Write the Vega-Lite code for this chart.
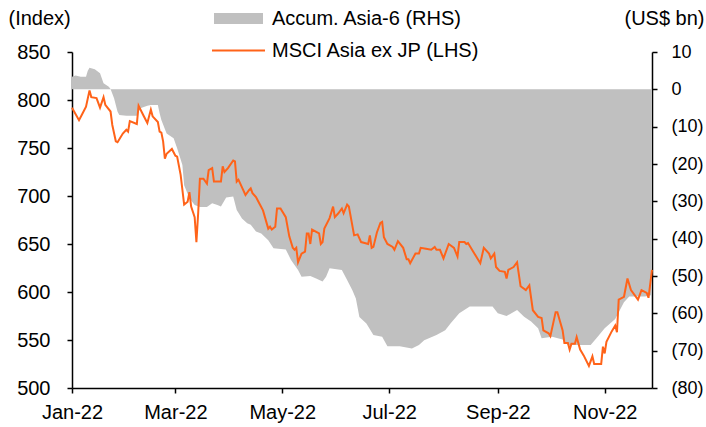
{
  "$schema": "https://vega.github.io/schema/vega-lite/v6.json",
  "autosize": "none",
  "width": 580,
  "height": 336,
  "padding": {"left": 72, "top": 52, "right": 54, "bottom": 39},
  "config": {
    "view": {"stroke": null},
    "font": "Liberation Sans",
    "axis": {"labelFont": "Liberation Sans", "titleFont": "Liberation Sans", "labelColor": "#000", "titleColor": "#000", "domainColor": "#000", "tickColor": "#000", "grid": false, "labelFontSize": 20, "titleFontSize": 20, "titleFontWeight": "normal", "domainWidth": 1.5, "tickWidth": 1.5, "tickSize": 5},
    "legend": {"labelFont": "Liberation Sans", "labelFontSize": 20, "labelColor": "#000", "labelLimit": 0}
  },
  "datasets": {
    "msci": [
      {"date": "2022-01-01", "value": 792}, {"date": "2022-01-05", "value": 779}, {"date": "2022-01-07", "value": 786}, {"date": "2022-01-09", "value": 793}, {"date": "2022-01-11", "value": 810}, {"date": "2022-01-12", "value": 803}, {"date": "2022-01-15", "value": 802}, {"date": "2022-01-17", "value": 792}, {"date": "2022-01-19", "value": 803}, {"date": "2022-01-20", "value": 795}, {"date": "2022-01-23", "value": 788}, {"date": "2022-01-24", "value": 774}, {"date": "2022-01-26", "value": 757}, {"date": "2022-01-27", "value": 756}, {"date": "2022-01-30", "value": 765},
      {"date": "2022-02-01", "value": 769}, {"date": "2022-02-02", "value": 767}, {"date": "2022-02-03", "value": 778}, {"date": "2022-02-07", "value": 775}, {"date": "2022-02-08", "value": 794}, {"date": "2022-02-11", "value": 783}, {"date": "2022-02-13", "value": 776}, {"date": "2022-02-15", "value": 790}, {"date": "2022-02-16", "value": 783}, {"date": "2022-02-19", "value": 777}, {"date": "2022-02-20", "value": 767}, {"date": "2022-02-21", "value": 766}, {"date": "2022-02-22", "value": 757}, {"date": "2022-02-23", "value": 739}, {"date": "2022-02-24", "value": 744}, {"date": "2022-02-27", "value": 749},
      {"date": "2022-03-01", "value": 742}, {"date": "2022-03-02", "value": 741}, {"date": "2022-03-04", "value": 722}, {"date": "2022-03-06", "value": 691}, {"date": "2022-03-08", "value": 694}, {"date": "2022-03-09", "value": 704}, {"date": "2022-03-10", "value": 689}, {"date": "2022-03-12", "value": 678}, {"date": "2022-03-13", "value": 652}, {"date": "2022-03-14", "value": 682}, {"date": "2022-03-15", "value": 718}, {"date": "2022-03-17", "value": 718}, {"date": "2022-03-19", "value": 713}, {"date": "2022-03-20", "value": 727}, {"date": "2022-03-22", "value": 729}, {"date": "2022-03-23", "value": 715}, {"date": "2022-03-27", "value": 715}, {"date": "2022-03-28", "value": 731}, {"date": "2022-03-29", "value": 725}, {"date": "2022-03-31", "value": 729},
      {"date": "2022-04-03", "value": 737}, {"date": "2022-04-04", "value": 736}, {"date": "2022-04-05", "value": 715}, {"date": "2022-04-06", "value": 717}, {"date": "2022-04-10", "value": 701}, {"date": "2022-04-12", "value": 706}, {"date": "2022-04-13", "value": 708}, {"date": "2022-04-14", "value": 703}, {"date": "2022-04-16", "value": 699}, {"date": "2022-04-18", "value": 692}, {"date": "2022-04-20", "value": 685}, {"date": "2022-04-23", "value": 666}, {"date": "2022-04-24", "value": 668}, {"date": "2022-04-25", "value": 665}, {"date": "2022-04-27", "value": 668}, {"date": "2022-04-28", "value": 687}, {"date": "2022-04-30", "value": 687},
      {"date": "2022-05-03", "value": 678}, {"date": "2022-05-05", "value": 658}, {"date": "2022-05-07", "value": 646}, {"date": "2022-05-08", "value": 644}, {"date": "2022-05-09", "value": 646}, {"date": "2022-05-10", "value": 631}, {"date": "2022-05-12", "value": 640}, {"date": "2022-05-14", "value": 642}, {"date": "2022-05-15", "value": 661}, {"date": "2022-05-16", "value": 661}, {"date": "2022-05-17", "value": 650}, {"date": "2022-05-18", "value": 665}, {"date": "2022-05-22", "value": 661}, {"date": "2022-05-23", "value": 650}, {"date": "2022-05-24", "value": 652}, {"date": "2022-05-25", "value": 666}, {"date": "2022-05-28", "value": 677}, {"date": "2022-05-30", "value": 689}, {"date": "2022-05-31", "value": 678},
      {"date": "2022-06-02", "value": 682}, {"date": "2022-06-04", "value": 687}, {"date": "2022-06-05", "value": 682}, {"date": "2022-06-07", "value": 691}, {"date": "2022-06-08", "value": 689}, {"date": "2022-06-11", "value": 659}, {"date": "2022-06-13", "value": 660}, {"date": "2022-06-15", "value": 652}, {"date": "2022-06-17", "value": 651}, {"date": "2022-06-19", "value": 650}, {"date": "2022-06-20", "value": 659}, {"date": "2022-06-21", "value": 646}, {"date": "2022-06-22", "value": 647}, {"date": "2022-06-24", "value": 662}, {"date": "2022-06-26", "value": 672}, {"date": "2022-06-27", "value": 673}, {"date": "2022-06-28", "value": 657}, {"date": "2022-06-30", "value": 650},
      {"date": "2022-07-03", "value": 647}, {"date": "2022-07-04", "value": 644}, {"date": "2022-07-06", "value": 653}, {"date": "2022-07-09", "value": 646}, {"date": "2022-07-11", "value": 634}, {"date": "2022-07-12", "value": 634}, {"date": "2022-07-13", "value": 630}, {"date": "2022-07-16", "value": 640}, {"date": "2022-07-18", "value": 640}, {"date": "2022-07-19", "value": 646}, {"date": "2022-07-22", "value": 645}, {"date": "2022-07-25", "value": 644}, {"date": "2022-07-27", "value": 647}, {"date": "2022-07-28", "value": 644}, {"date": "2022-07-30", "value": 644},
      {"date": "2022-08-01", "value": 635}, {"date": "2022-08-04", "value": 650}, {"date": "2022-08-07", "value": 646}, {"date": "2022-08-09", "value": 637}, {"date": "2022-08-10", "value": 652}, {"date": "2022-08-13", "value": 652}, {"date": "2022-08-14", "value": 650}, {"date": "2022-08-15", "value": 651}, {"date": "2022-08-18", "value": 642}, {"date": "2022-08-22", "value": 630}, {"date": "2022-08-24", "value": 646}, {"date": "2022-08-27", "value": 640}, {"date": "2022-08-28", "value": 635}, {"date": "2022-08-30", "value": 640}, {"date": "2022-08-31", "value": 626},
      {"date": "2022-09-02", "value": 622}, {"date": "2022-09-05", "value": 621}, {"date": "2022-09-06", "value": 614}, {"date": "2022-09-07", "value": 623}, {"date": "2022-09-10", "value": 626}, {"date": "2022-09-12", "value": 631}, {"date": "2022-09-14", "value": 606}, {"date": "2022-09-17", "value": 602}, {"date": "2022-09-19", "value": 607}, {"date": "2022-09-21", "value": 581}, {"date": "2022-09-24", "value": 574}, {"date": "2022-09-26", "value": 573}, {"date": "2022-09-27", "value": 560}, {"date": "2022-09-30", "value": 557},
      {"date": "2022-10-01", "value": 554}, {"date": "2022-10-04", "value": 579}, {"date": "2022-10-05", "value": 579}, {"date": "2022-10-08", "value": 560}, {"date": "2022-10-09", "value": 547}, {"date": "2022-10-11", "value": 547}, {"date": "2022-10-12", "value": 540}, {"date": "2022-10-13", "value": 546}, {"date": "2022-10-15", "value": 546}, {"date": "2022-10-16", "value": 553}, {"date": "2022-10-18", "value": 540}, {"date": "2022-10-20", "value": 534}, {"date": "2022-10-23", "value": 523}, {"date": "2022-10-25", "value": 533}, {"date": "2022-10-26", "value": 525}, {"date": "2022-10-30", "value": 525}, {"date": "2022-10-31", "value": 543},
      {"date": "2022-11-01", "value": 536}, {"date": "2022-11-02", "value": 548}, {"date": "2022-11-05", "value": 559}, {"date": "2022-11-07", "value": 565}, {"date": "2022-11-08", "value": 558}, {"date": "2022-11-09", "value": 592}, {"date": "2022-11-12", "value": 595}, {"date": "2022-11-14", "value": 614}, {"date": "2022-11-16", "value": 602}, {"date": "2022-11-20", "value": 592}, {"date": "2022-11-22", "value": 602}, {"date": "2022-11-25", "value": 599}, {"date": "2022-11-26", "value": 594}, {"date": "2022-11-28", "value": 623}
    ],
    "flows": [
      {"date": "2022-01-01", "value": 3.4}, {"date": "2022-01-03", "value": 3.7}, {"date": "2022-01-06", "value": 3.4}, {"date": "2022-01-09", "value": 3.4}, {"date": "2022-01-10", "value": 5.0}, {"date": "2022-01-11", "value": 5.8}, {"date": "2022-01-14", "value": 5.4}, {"date": "2022-01-17", "value": 4.3}, {"date": "2022-01-19", "value": 1.6}, {"date": "2022-01-22", "value": 0.7}, {"date": "2022-01-23", "value": 0.1}, {"date": "2022-01-25", "value": -2.4}, {"date": "2022-01-27", "value": -6.0}, {"date": "2022-01-28", "value": -6.9},
      {"date": "2022-02-01", "value": -7.1}, {"date": "2022-02-07", "value": -7.1}, {"date": "2022-02-09", "value": -5.1}, {"date": "2022-02-13", "value": -4.4}, {"date": "2022-02-15", "value": -4.2}, {"date": "2022-02-19", "value": -4.2}, {"date": "2022-02-20", "value": -6.4}, {"date": "2022-02-21", "value": -8.2}, {"date": "2022-02-24", "value": -11.8}, {"date": "2022-02-28", "value": -13.1},
      {"date": "2022-03-02", "value": -15.8}, {"date": "2022-03-05", "value": -20.3}, {"date": "2022-03-06", "value": -25.7}, {"date": "2022-03-09", "value": -29.2}, {"date": "2022-03-12", "value": -31.0}, {"date": "2022-03-15", "value": -31.5}, {"date": "2022-03-19", "value": -31.5}, {"date": "2022-03-22", "value": -30.5}, {"date": "2022-03-25", "value": -31.0}, {"date": "2022-03-27", "value": -31.4}, {"date": "2022-03-30", "value": -29.0},
      {"date": "2022-04-03", "value": -28.7}, {"date": "2022-04-05", "value": -32.3}, {"date": "2022-04-08", "value": -34.6}, {"date": "2022-04-11", "value": -35.9}, {"date": "2022-04-13", "value": -36.3}, {"date": "2022-04-16", "value": -38.1}, {"date": "2022-04-19", "value": -38.6}, {"date": "2022-04-23", "value": -40.4}, {"date": "2022-04-26", "value": -42.6},
      {"date": "2022-05-03", "value": -42.9}, {"date": "2022-05-06", "value": -45.7}, {"date": "2022-05-10", "value": -48.4}, {"date": "2022-05-12", "value": -50.2}, {"date": "2022-05-17", "value": -50.0}, {"date": "2022-05-20", "value": -50.6}, {"date": "2022-05-24", "value": -51.5}, {"date": "2022-05-26", "value": -50.2}, {"date": "2022-05-28", "value": -47.9},
      {"date": "2022-06-04", "value": -48.4}, {"date": "2022-06-07", "value": -51.1}, {"date": "2022-06-10", "value": -53.8}, {"date": "2022-06-12", "value": -56.0}, {"date": "2022-06-14", "value": -61.0}, {"date": "2022-06-18", "value": -62.7}, {"date": "2022-06-22", "value": -65.8}, {"date": "2022-06-27", "value": -66.3}, {"date": "2022-06-30", "value": -68.8},
      {"date": "2022-07-07", "value": -68.8}, {"date": "2022-07-14", "value": -69.4}, {"date": "2022-07-18", "value": -68.5}, {"date": "2022-07-21", "value": -67.2}, {"date": "2022-07-28", "value": -65.8},
      {"date": "2022-08-02", "value": -64.5}, {"date": "2022-08-05", "value": -62.7}, {"date": "2022-08-10", "value": -60.0}, {"date": "2022-08-16", "value": -58.2}, {"date": "2022-08-29", "value": -58.2},
      {"date": "2022-09-01", "value": -60.0}, {"date": "2022-09-06", "value": -60.7}, {"date": "2022-09-12", "value": -59.1}, {"date": "2022-09-16", "value": -60.9}, {"date": "2022-09-20", "value": -62.2}, {"date": "2022-09-24", "value": -64.0}, {"date": "2022-09-26", "value": -66.7},
      {"date": "2022-10-02", "value": -66.3}, {"date": "2022-10-08", "value": -67.0}, {"date": "2022-10-11", "value": -68.5}, {"date": "2022-10-24", "value": -68.5}, {"date": "2022-10-28", "value": -66.3},
      {"date": "2022-11-01", "value": -64.0}, {"date": "2022-11-07", "value": -61.5}, {"date": "2022-11-12", "value": -57.0}, {"date": "2022-11-15", "value": -55.5}, {"date": "2022-11-24", "value": -55.5}, {"date": "2022-11-28", "value": -55.1}
    ]
  },
  "layer": [
    {
      "data": {"name": "flows"},
      "transform": [{"calculate": "'Accum. Asia-6 (RHS)'", "as": "series"}],
      "mark": {"type": "area", "opacity": 1},
      "encoding": {
        "x": {"field": "date", "type": "temporal",
          "scale": {"type": "utc", "domain": [{"year": 2022, "month": 1, "date": 1, "utc": true}, {"year": 2022, "month": 11, "date": 28, "utc": true}]},
          "axis": {"title": null, "format": "%b-%y", "tickCount": {"interval": "month", "step": 2}, "labelPadding": 9, "labelFlush": false, "labelOverlap": false}},
        "y": {"field": "value", "type": "quantitative",
          "scale": {"domain": [-80, 10], "nice": false, "zero": false},
          "axis": {"orient": "right", "values": [-80, -70, -60, -50, -40, -30, -20, -10, 0, 10], "labelExpr": "datum.value < 0 ? '(' + format(-datum.value, 'd') + ')' : format(datum.value, 'd')", "labelPadding": 14, "labelFontSize": 18, "labelAlign": "left",
            "title": "(US$ bn)", "titleAngle": 0, "titleAlign": "right", "titleBaseline": "alphabetic", "titleX": 52, "titleY": -28}},
        "y2": {"datum": 0},
        "fill": {"field": "series", "type": "nominal",
          "scale": {"range": ["#C0C0C0"]},
          "legend": {"title": null, "orient": "none", "legendX": 142, "legendY": -58, "symbolType": "M-1,-0.22H1V0.22H-1Z", "symbolSize": 2401, "symbolStrokeWidth": 0, "symbolOpacity": 1, "labelOffset": 9, "padding": 0}}
      }
    },
    {
      "data": {"name": "msci"},
      "transform": [{"calculate": "'MSCI Asia ex JP (LHS)'", "as": "series"}],
      "mark": {"type": "line", "strokeWidth": 2},
      "encoding": {
        "x": {"field": "date", "type": "temporal"},
        "y": {"field": "value", "type": "quantitative",
          "scale": {"domain": [500, 850], "nice": false, "zero": false},
          "axis": {"orient": "left", "values": [500, 550, 600, 650, 700, 750, 800, 850], "labelPadding": 17,
            "title": "(Index)", "titleAngle": 0, "titleAlign": "left", "titleBaseline": "alphabetic", "titleX": -64, "titleY": -28}},
        "stroke": {"field": "series", "type": "nominal",
          "scale": {"range": ["#FF6319"]},
          "legend": {"title": null, "orient": "none", "legendX": 139, "legendY": -29, "symbolType": "stroke", "symbolSize": 2809, "symbolStrokeWidth": 2, "labelOffset": 6, "padding": 0}}
      }
    }
  ],
  "resolve": {"scale": {"y": "independent", "fill": "independent", "stroke": "independent"}}
}
